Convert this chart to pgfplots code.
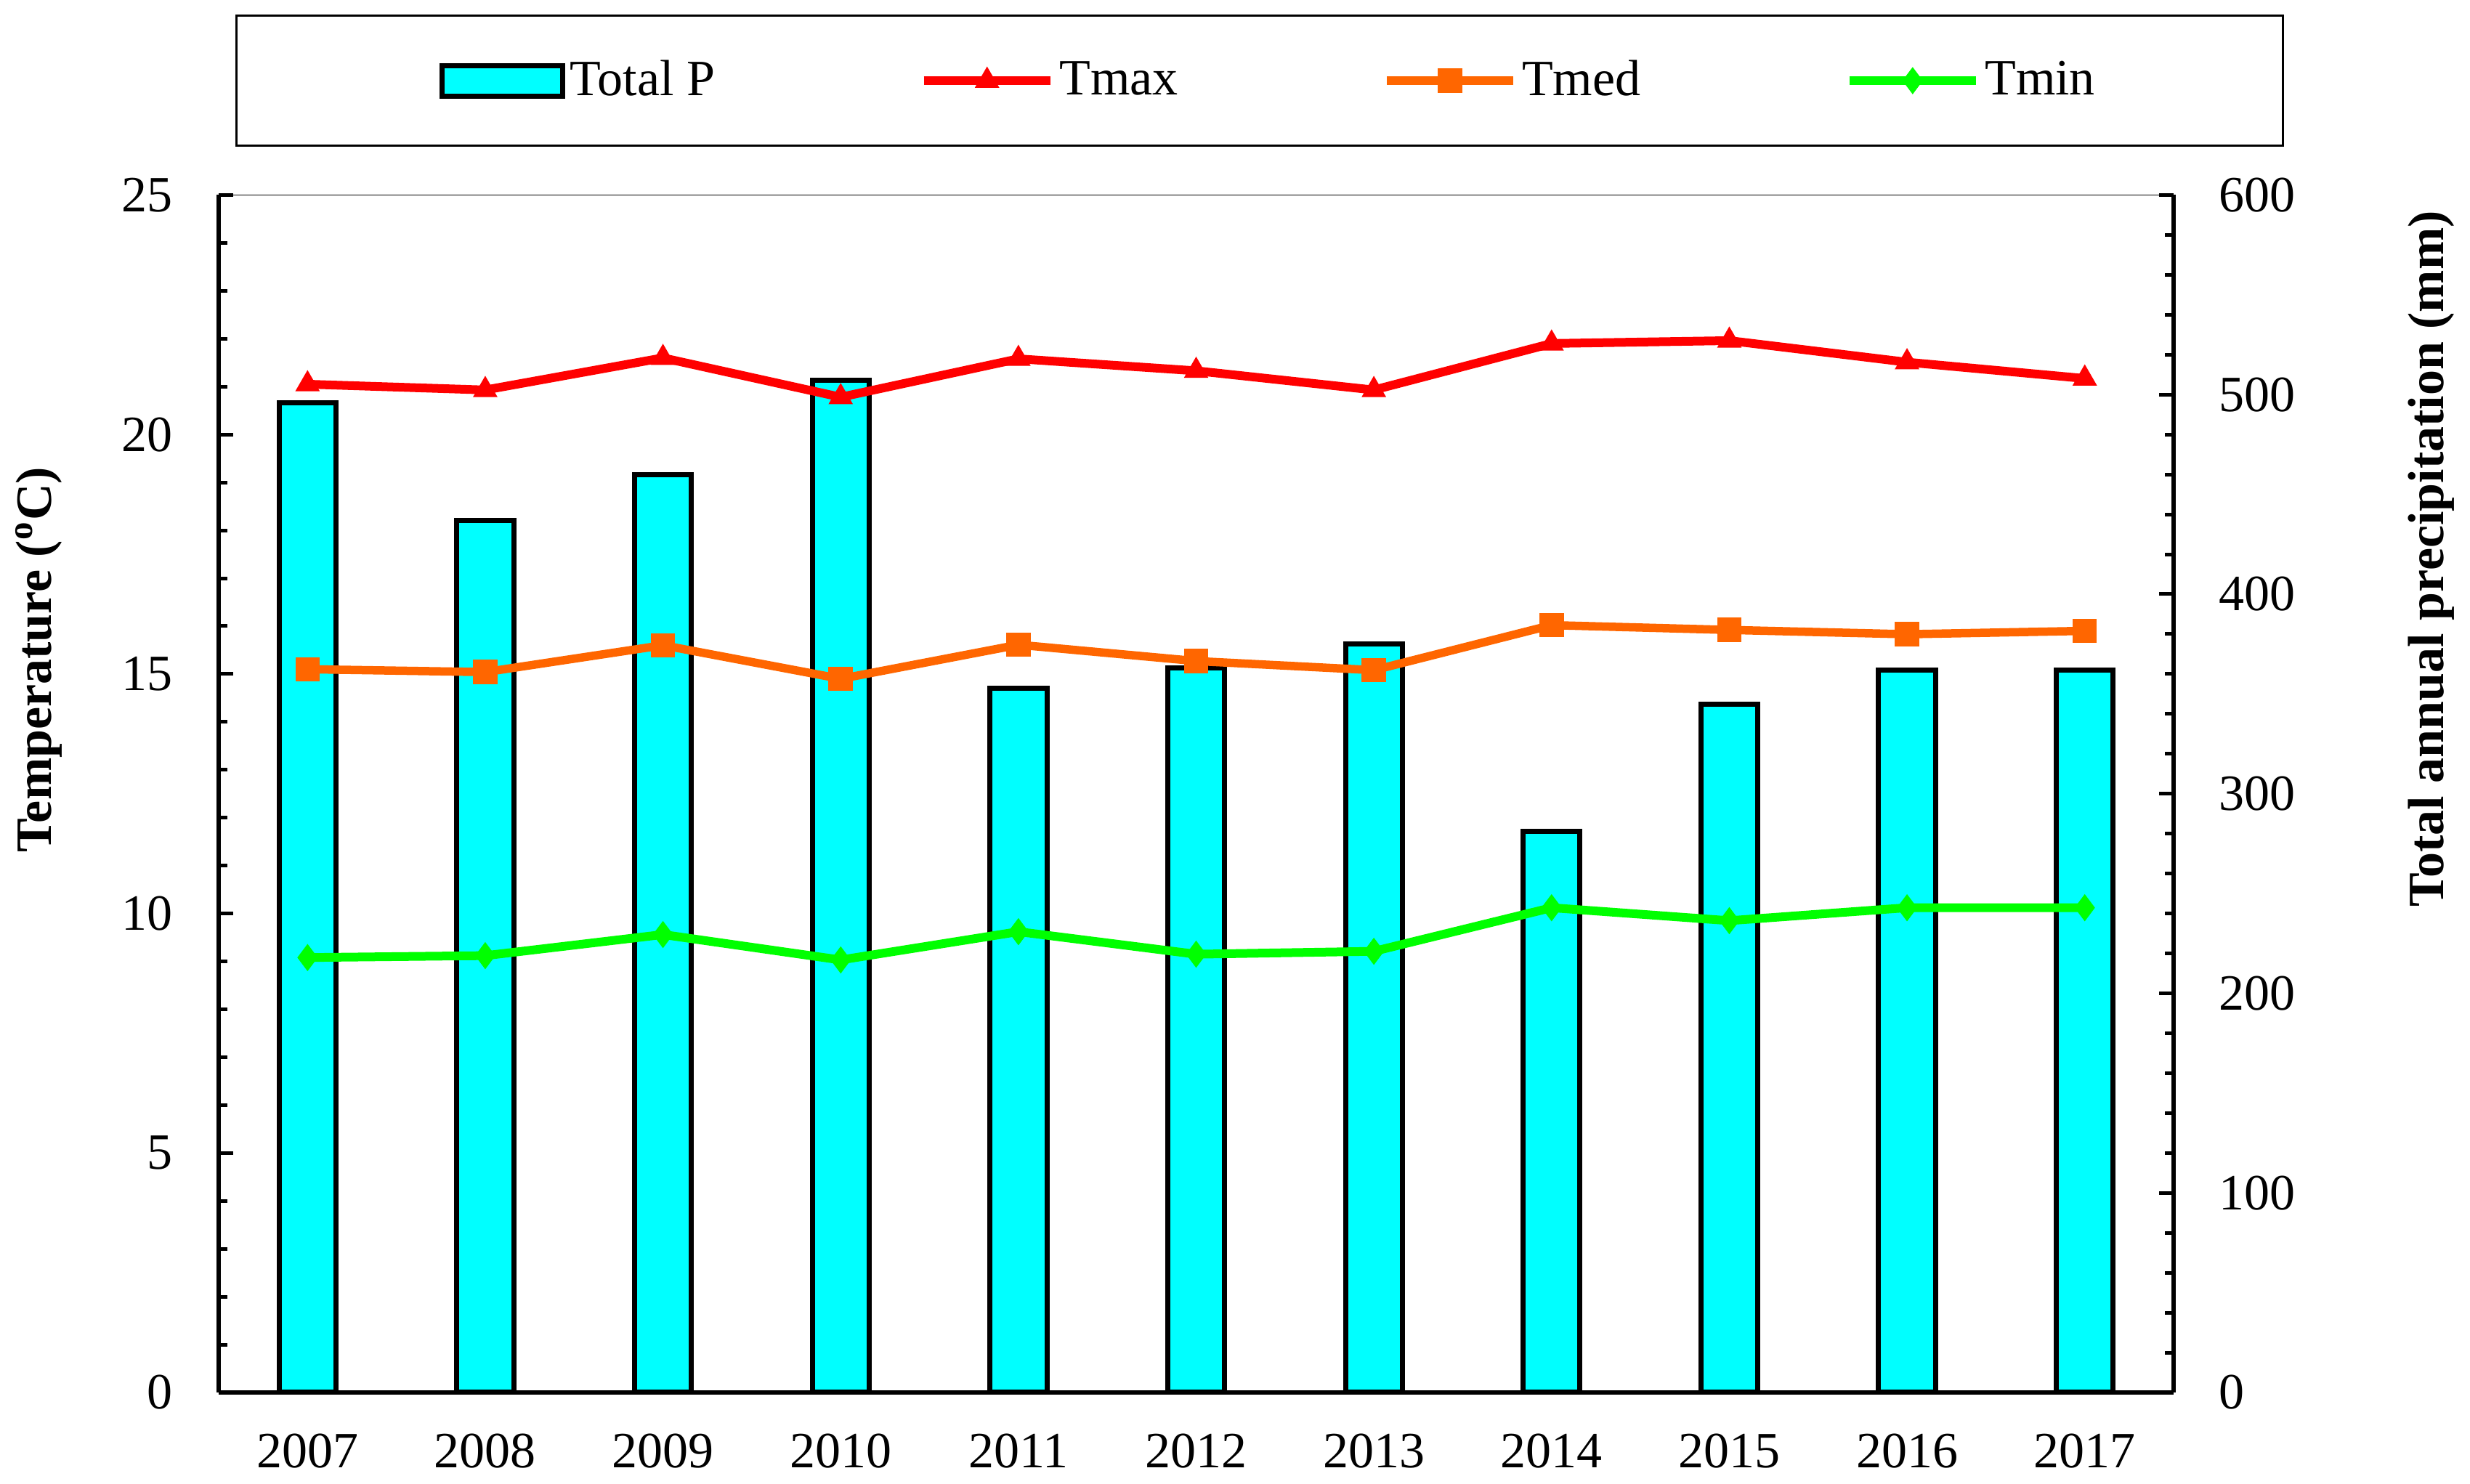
\documentclass[border=0pt]{standalone}
\usepackage{pgfplots}
\pgfplotsset{compat=1.18}
\usepackage{fontspec}
\setmainfont{Liberation Serif}
\definecolor{barcyan}{RGB}{0,255,255}
\definecolor{tmaxred}{RGB}{255,0,0}
\definecolor{tmedorange}{RGB}{255,102,0}
\definecolor{tmingreen}{RGB}{0,255,0}
\newcommand{\fs}{\rmfamily\fontsize{14}{16.8}\selectfont}
\pgfplotsset{
  barlegend/.style={legend image code/.code={\path (-5.6pt,0pt); \draw[##1] (0pt,-4.2pt) rectangle (33.2pt,4.2pt);}},
  linelegend/.style={legend image code/.code={\draw[mark repeat=2,mark phase=2,##1] plot coordinates {(0pt,0pt) (17.4pt,0pt) (34.8pt,0pt)};}},
}
\begin{document}
\begin{tikzpicture}
\path[use as bounding box] (-60.2pt,-25.2pt) rectangle (619.8pt,383.4pt);
% ---------- precipitation bars (right axis) ----------
\begin{axis}[
  scale only axis, width=538.2pt, height=329.7pt,
  xmin=2006.5, xmax=2017.5, ymin=0, ymax=600,
  axis x line=none,
  axis y line*=right,
  ytick={0,100,200,300,400,500,600}, yticklabels={0,100,200,300,400,500,600},
  minor y tick num=4,
  ytick pos=right, yticklabel pos=right,
  tick align=inside,
  major tick length=4pt, minor tick length=2.5pt,
  major tick style={black, line width=1pt},
  minor tick style={black, line width=1pt},
  axis line style={line width=1.1pt},
  yticklabel style={anchor=west, inner sep=0pt, xshift=12.2pt, font=\fs},
  ylabel={Total annual precipitation (mm)},
  every axis y label/.style={at={(axis description cs:1.1196,0.696)}, rotate=90, anchor=north, inner sep=0pt, font=\fs\bfseries},
]
\addplot[ybar, bar width=0.32, fill=barcyan, draw=black, line width=1.4pt]
  coordinates {(2007,496) (2008,437) (2009,460) (2010,507) (2011,353) (2012,363)
               (2013,375) (2014,281) (2015,345) (2016,362) (2017,362)};
\end{axis}
% ---------- temperatures (left axis) ----------
\begin{axis}[
  scale only axis, width=538.2pt, height=329.7pt,
  xmin=2006.5, xmax=2017.5, ymin=0, ymax=25,
  axis x line*=bottom,
  axis y line*=left,
  xtick={2007,2008,2009,2010,2011,2012,2013,2014,2015,2016,2017},
  xticklabels={2007,2008,2009,2010,2011,2012,2013,2014,2015,2016,2017},
  xtick style={draw=none},
  ytick={0,5,10,15,20,25}, yticklabels={0,5,10,15,20,25},
  minor y tick num=4,
  ytick pos=left,
  tick align=inside,
  major tick length=4pt, minor tick length=2.5pt,
  major tick style={black, line width=1pt},
  minor tick style={black, line width=1pt},
  axis line style={line width=1.1pt},
  xticklabel style={anchor=north, inner sep=0pt, yshift=-11.2pt, font=\fs},
  yticklabel style={anchor=east, inner sep=0pt, xshift=-12.4pt, font=\fs},
  ylabel={Temperature (\textsuperscript{o}C)},
  every axis y label/.style={at={(axis description cs:-0.1044,0.612)}, rotate=90, anchor=north, inner sep=0pt, font=\fs\bfseries},
  legend columns=4,
  legend style={at={(axis description cs:0.5325,1.0955)}, anchor=center,
    draw=black, line width=0.7pt, inner xsep=50.4pt, inner ysep=11.0pt,
    font=\fs, nodes={inner sep=1.3pt},
    /tikz/every even column/.append style={column sep=55pt}},
]
\addlegendimage{barlegend, fill=barcyan, draw=black, line width=1.4pt}
\addlegendentry{Total P}
\addplot[linelegend, color=tmaxred, line width=2.4pt, mark=triangle*, mark size=3.6pt, mark options={solid, line width=0.3pt}]
  coordinates {(2007,21.05) (2008,20.93) (2009,21.60) (2010,20.78) (2011,21.58) (2012,21.33)
               (2013,20.93) (2014,21.90) (2015,21.96) (2016,21.51) (2017,21.17)};
\addlegendentry{Tmax}
\addplot[linelegend, color=tmedorange, line width=2.3pt, mark=square*, mark size=3.2pt, mark options={solid, line width=0.3pt}]
  coordinates {(2007,15.10) (2008,15.04) (2009,15.60) (2010,14.90) (2011,15.61) (2012,15.27)
               (2013,15.08) (2014,16.02) (2015,15.92) (2016,15.83) (2017,15.90)};
\addlegendentry{Tmed}
\addplot[linelegend, color=tmingreen, line width=2.4pt, mark=diamond*, mark size=3.5pt, mark options={solid, line width=0.3pt}]
  coordinates {(2007,9.08) (2008,9.12) (2009,9.56) (2010,9.03) (2011,9.62) (2012,9.15)
               (2013,9.21) (2014,10.12) (2015,9.85) (2016,10.12) (2017,10.12)};
\addlegendentry{Tmin}
\draw[line width=0.3pt] (rel axis cs:0,1) -- (rel axis cs:1,1);
\end{axis}
\end{tikzpicture}
\end{document}
